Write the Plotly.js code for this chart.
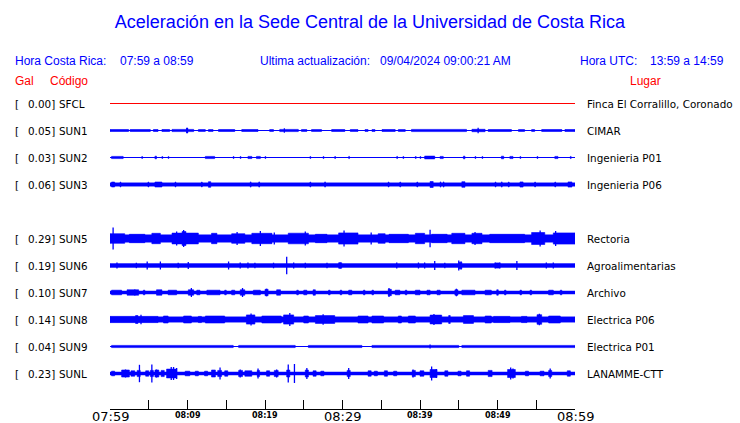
<!DOCTYPE html>
<html><head><meta charset="utf-8">
<script src="https://cdn.plot.ly/plotly-3.0.1.min.js"></script>
<style>html,body{margin:0;padding:0;background:#fff;}#chart{width:740px;height:423px;}</style>
</head><body><div id="chart"></div>
<script>
// ---------------- DATA ----------------
const codes  = ['SFCL','SUN1','SUN2','SUN3','SUN5','SUN6','SUN7','SUN8','SUN9','SUNL'];
const slots  = [0,1,2,3,5,6,7,8,9,10];           // SUN4 slot is empty
const peakGal = [0.00,0.05,0.03,0.06,0.29,0.19,0.10,0.14,0.04,0.23];
const places = ['Finca El Corralillo, Coronado','CIMAR','Ingenieria P01','Ingenieria P06','Rectoria','Agroalimentarias','Archivo','Electrica P06','Electrica P01','LANAMME-CTT'];
// background noise half-amplitude per station (display counts)
const baseAmp = [0, 0.5, 0.5, 1.7, 3.8, 2.0, 1.6, 2.7, 0.5, 1.6];
// bursts: [startMinute, endMinute, halfAmplitude]
const sfclBursts = [];
const sun1Bursts = [[0,2.4,1.0],[2.6,5.2,1.0],[5.6,6.2,1.0],[6.7,7.7,1.0],[8.0,10.8,1.1],[11.4,12.3,0.9],[12.7,13.3,0.9],[14.0,16.1,1.0],[17.0,19.1,1.0],[20.6,21.1,0.9],[21.9,24.3,1.1],[24.7,25.4,0.9],[26.0,27.3,0.9],[28.6,30.3,1.0],[31.0,32.0,0.9],[32.9,33.3,0.9],[33.8,34.2,0.9],[35.1,36.8,1.0],[37.2,38.1,0.9],[38.9,46.0,1.1],[46.7,48.4,1.2],[48.8,51.8,1.0],[52.7,53.5,0.9],[54.4,54.8,0.9],[55.7,58.3,1.0],[58.7,60,1.0]];
const sun2Bursts = [[0.2,1.7,1.1],[4.1,4.2,1],[5.8,6.0,1.3],[6.7,6.8,1],[7.5,7.6,0.9],[12.3,13.5,1.1],[15.9,16.0,1],[16.8,16.9,1],[17.8,18.3,1.1],[18.9,19.4,1.1],[20.0,20.1,1],[25.8,25.9,1],[27.5,27.6,1],[29.0,29.1,1],[30.8,30.9,1.1],[37.0,37.1,1.1],[37.8,37.9,1],[39.4,39.5,1],[40.0,40.1,1],[40.6,41.9,1.4],[42.6,43.0,1.1],[45.6,45.8,1.3],[47.1,47.2,1],[48.0,48.1,1],[50.5,50.8,1.3],[51.6,52.0,1.1],[52.9,53.0,1],[55.1,55.2,1],[57.4,57.8,1.1],[59.4,59.5,1.1]];
const sun3Bursts = [[0.2,0.6,2.5],[1.3,1.4,2.5],[4.9,5.0,2.5],[5.8,6.7,2.5],[8.4,8.5,2.5],[11.8,11.9,2.5],[12.7,13.0,2.8],[18.1,18.2,2.6],[19.2,19.3,2.6],[25.8,25.9,2.5],[27.7,27.8,2.6],[35.9,36.0,2.5],[37.4,37.5,2.5],[39.6,39.7,2.5],[41.3,41.7,3.0],[42.6,42.7,2.6],[43.0,43.1,2.6],[45.4,45.8,2.8],[49.7,49.8,2.5],[50.5,50.6,2.6],[51.4,51.5,2.5],[52.9,53.3,2.6],[54.8,54.9,2.5],[57.4,57.5,2.5],[59.1,59.6,2.6]];
const sun5Bursts = [[0,1.9,4.8],[2.5,4.5,4.2],[5.4,6.5,5.2],[8.0,11.4,5.4],[9.3,9.8,7],[13.1,13.8,5.2],[15.7,17.4,4.8],[18.3,20.9,5.2],[23.0,25.6,5.3],[26.5,28,4.2],[29.5,32.0,5.6],[34.6,35.5,4.8],[36,38.5,4.2],[39.4,40.6,5.2],[41.5,43.5,4.2],[44.1,45.8,5.2],[46.7,48.0,5.2],[49,53.5,4.2],[54.4,56.1,6],[57.2,60,5.6]];
const sun6Bursts = [[29.5,29.9,2.8],[45.0,45.4,3.3],[49.7,50.3,2.6]];
const sun7Bursts = [[0.2,1.5,2.3],[2.2,3.7,2.7],[4.3,4.5,2.3],[6.0,6.7,2.7],[7.5,8.6,2.3],[10.1,10.8,2.7],[11.2,11.6,2.3],[12.5,14.2,2.3],[14.8,15.0,2.3],[15.7,16.1,2.3],[16.8,17.4,2.7],[18.5,19.4,2.3],[20.0,20.4,3.2],[21.5,22.0,2.7],[24.1,24.3,2.3],[25.0,25.4,2.3],[26.2,26.5,2.7],[28.2,28.4,2.3],[29.7,29.9,2.3],[30.8,31.2,2.3],[32.7,32.9,2.3],[33.8,34.0,2.3],[35.9,36.3,3.2],[36.8,37.4,2.3],[38.1,38.3,2.3],[39.4,40.0,2.3],[40.9,41.3,2.3],[42.2,42.6,2.3],[44.5,44.9,2.7],[45.4,47.1,2.3],[48.4,49.2,2.3],[49.9,50.1,2.7],[50.9,51.1,2.3],[52.9,53.1,2.3],[54.2,54.4,2.3],[56.6,57.2,2.3],[58.1,58.3,2.3]];
const sun8Bursts = [[0,6.2,3.1],[3.3,3.6,4.0],[6.9,7.5,3.5],[9.5,10.5,3.5],[11.4,11.8,3.1],[12.3,14.8,3.5],[17.6,18.7,4.6],[19.6,22.1,3.5],[22.4,23.7,4.6],[25.0,25.6,3.5],[26.5,29.0,3.9],[32.0,33.3,3.5],[33.8,35.3,3.5],[37.2,37.6,3.5],[38.5,39.4,3.5],[41.3,42.8,4.4],[43.7,43.9,4.0],[45.6,46.9,3.9],[48.4,49.2,3.5],[49.5,51.6,3.1],[53.1,53.8,3.1],[55.1,55.7,4.8],[56.6,58.1,3.5]];
const sun9Bursts = [[0.2,15.9,1.1],[16.6,23.9,1.1],[25.6,32.5,1.1],[33.8,45.0,1.1],[45.4,60,1.1]];
const sunlBursts = [[0.2,0.6,2.3],[1.5,2.5,3.5],[2.7,3.2,2.7],[3.5,3.9,3.1],[4.6,5.0,2.7],[5.2,5.6,3.1],[5.8,6.3,3.5],[6.6,7.0,3.1],[7.3,8.6,4.4],[9.7,10.3,2.3],[11.0,11.4,2.3],[12.2,12.6,2.3],[13.1,13.6,3.5],[13.9,14.4,3.1],[14.8,15.2,2.7],[16.6,17.1,3.1],[17.4,18.3,2.7],[19.0,19.3,3.1],[20.2,20.6,2.7],[21.2,21.7,3.1],[22.8,23.2,3.5],[25.2,25.6,3.5],[26.2,26.6,2.7],[27.2,27.6,2.3],[30.6,31.0,3.1],[33.3,33.7,2.7],[34.1,34.5,2.3],[35.4,35.8,2.7],[36.6,37.0,2.3],[39.0,39.4,3.1],[40.0,40.5,2.7],[41.3,42.2,4.0],[43.2,43.6,2.7],[44.9,45.3,2.3],[46.0,46.4,2.7],[48.8,49.3,3.1],[51.3,52.3,4.0],[53.6,54.0,2.3],[55.5,56.0,2.3],[56.6,57.0,3.1],[59.0,59.4,2.7]];
// isolated spikes: [minute, halfAmplitude]
const sfclSpikes = [];
const sun1Spikes = [[9.9,2.7],[10.0,2.7],[47.5,2.7],[22.5,2.2]];
const sun2Spikes = [];
const sun3Spikes = [];
const sun5Spikes = [[0.4,11],[9.5,8.5],[19.4,7.5],[25.2,7],[30.2,8],[41.3,8.7],[55.5,8],[8.6,7],[16.4,6.5],[57.5,7.5],[33.7,6],[47.1,6.5],[21.2,6]];
const sun6Spikes = [[0.9,3],[3.4,2.8],[4.8,4],[6.5,4],[8.8,2.8],[10.1,3.5],[15.3,4],[16.8,3],[17.8,3],[18.7,2.8],[21.1,2.8],[22.8,8.7],[23.7,3],[25.2,2.8],[28.0,2.8],[29.7,3],[37.0,3],[39.8,3],[40.6,3],[41.9,4.5],[43.2,2.8],[45.0,5],[45.3,4],[49.7,3],[50.3,3],[52.5,4.5],[56.3,3],[57.2,3]];
const sun7Spikes = [[10.5,4.5],[17.1,4.5],[20.2,3.8],[36.0,4.5],[44.7,3.8],[3.2,3]];
const sun8Spikes = [[18.2,6],[23.2,6.5],[27.5,5.2],[4.0,4.8],[41.8,5.5],[55.4,5.8]];
const sun9Spikes = [[41.3,2]];
const sunlSpikes = [[2.0,4],[3.8,8.7],[5.4,9],[6.0,4],[7.9,6.5],[8.2,6.5],[8.6,5.5],[14.2,6],[16.8,4],[19.1,5],[21.5,4],[23.0,9],[23.8,9.5],[25.4,5.5],[30.8,5.5],[39.1,4],[41.5,7],[42.1,4.5],[51.7,6],[52.0,5],[56.8,5]];
const bursts = [sfclBursts,sun1Bursts,sun2Bursts,sun3Bursts,sun5Bursts,sun6Bursts,sun7Bursts,sun8Bursts,sun9Bursts,sunlBursts];
const spikes = [sfclSpikes,sun1Spikes,sun2Spikes,sun3Spikes,sun5Spikes,sun6Spikes,sun7Spikes,sun8Spikes,sun9Spikes,sunlSpikes];
const tickLabels = ['07:59','08:09','08:19','08:29','08:39','08:49','08:59'];
const spanMinutes = 60;

// ---------------- RENDERING ----------------
const L=110, R=575, T=90, B=409, ROWPX=27;
const K = 1/ROWPX; // display count -> row units
const px = x => (x-L)/(R-L);
const py = y => (B-y)/(B-T);
const traces = [];
codes.forEach((c,i)=>{
  const row = slots[i];
  const col = i===0 ? 'red' : 'blue';
  const a0 = baseAmp[i]*K;
  if (baseAmp[i] <= 0.5) {
    traces.push({x:[0,spanMinutes], y:[row,row], mode:'lines', line:{color:col,width:1}, hoverinfo:'skip'});
  } else {
    traces.push({x:[0,spanMinutes,spanMinutes,0,0], y:[row-a0,row-a0,row+a0,row+a0,row-a0], mode:'lines', fill:'toself', fillcolor:col, line:{color:col,width:0.4}, hoverinfo:'skip'});
  }
  const bx=[], by=[];
  bursts[i].forEach(([s,e,a])=>{ const h=a*K; bx.push(s,e,e,s,s,null); by.push(row-h,row-h,row+h,row+h,row-h,null); });
  if (bx.length) traces.push({x:bx, y:by, mode:'lines', fill:'toself', fillcolor:col, line:{color:col,width:0.6}, hoverinfo:'skip'});
  const sx=[], sy=[];
  spikes[i].forEach(([t,a])=>{ const h=a*K; sx.push(t,t,null); sy.push(row-h,row+h,null); });
  if (sx.length) traces.push({x:sx, y:sy, mode:'lines', line:{color:col,width:1.3}, hoverinfo:'skip'});
});

const ann = [];
const A = (text,x,y,xanchor,font,yref) => ann.push({text, x, y, xref:'paper', yref:yref||'paper', xanchor, yanchor:'middle', showarrow:false, font, borderpad:0, borderwidth:0});
const hdr = {family:'Liberation Sans, Arial, sans-serif', size:12, color:'blue'};
const red = {family:'Liberation Sans, Arial, sans-serif', size:12, color:'red'};
A('Hora Costa Rica:', px(15), py(61), 'left', hdr);
A(tickLabels[0]+' a '+tickLabels[tickLabels.length-1], px(120), py(61), 'left', hdr);
A('Ultima actualización:', px(260), py(61), 'left', hdr);
A('09/04/2024 09:00:21 AM', px(380), py(61), 'left', hdr);
A('Hora UTC:', px(580), py(61), 'left', hdr);
A('13:59 a 14:59', px(650), py(61), 'left', hdr);
A('Gal', px(15), py(80.5), 'left', red);
A('Código', px(50), py(80.5), 'left', red);
A('Lugar', px(630), py(80.5), 'left', red);
const lab = {family:'DejaVu Sans, sans-serif', size:10.4, color:'black'};
codes.forEach((c,i)=>{
  const row = slots[i];
  A('[', px(15), row, 'left', lab, 'y');
  A(peakGal[i].toFixed(2)+']', px(54.8), row, 'right', lab, 'y');
  A(c, px(58.5), row, 'left', lab, 'y');
  A(places[i], px(587), row, 'left', lab, 'y');
});
tickLabels.forEach((t,i)=>{
  const big = i%3===0;
  A(t, (i*10)/spanMinutes, big?py(416):py(415), 'center',
    big ? {family:'DejaVu Sans, sans-serif', size:13, color:'black'}
        : {family:'DejaVu Sans, sans-serif', size:8, color:'black', weight:'bold'});
});

const layout = {
  width:740, height:423, margin:{l:L, r:740-R, t:T, b:423-B, pad:0},
  paper_bgcolor:'#fff', plot_bgcolor:'#fff', showlegend:false,
  title:{text:'Aceleración en la Sede Central de la Universidad de Costa Rica', x:0.5, xanchor:'center', xref:'container', y:1-21.5/423, yref:'container', yanchor:'middle', font:{family:'Liberation Sans, Arial, sans-serif', size:18, color:'blue'}},
  xaxis:{range:[0,spanMinutes], showgrid:false, zeroline:false, showline:true, linecolor:'black', linewidth:1, ticks:'inside', ticklen:9, tickwidth:1, tickcolor:'black', tick0:0, dtick:5, showticklabels:false, fixedrange:true},
  yaxis:{range:[10+35.5/ROWPX, -13.5/ROWPX], showgrid:false, zeroline:false, showline:false, showticklabels:false, ticks:'', fixedrange:true},
  annotations: ann
};
Plotly.newPlot('chart', traces, layout, {displayModeBar:false, staticPlot:true});
</script></body></html>
